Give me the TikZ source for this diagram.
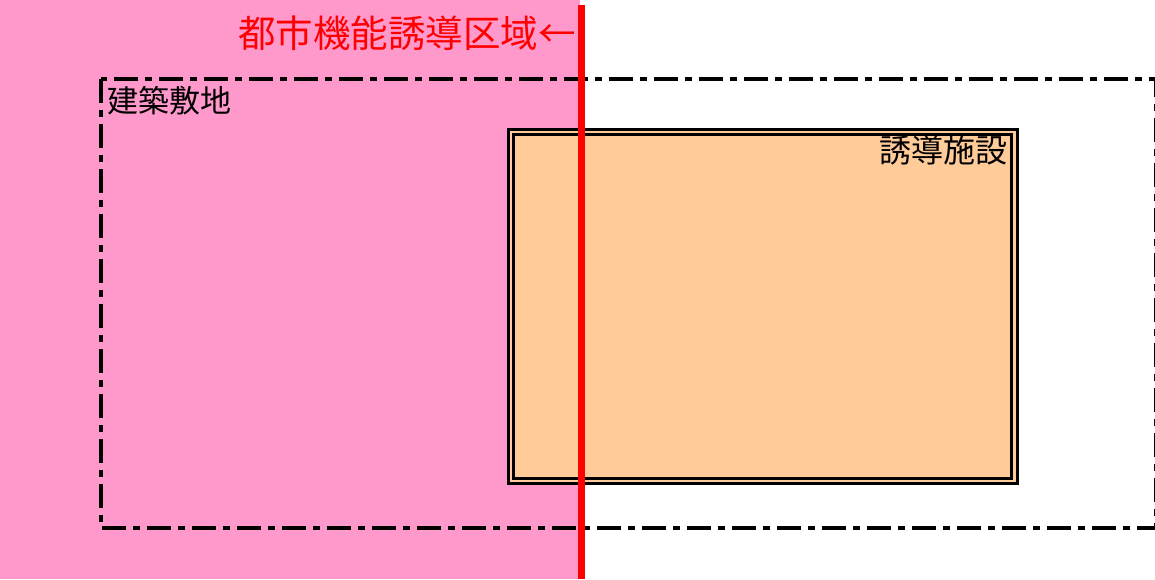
\documentclass[tikz,border=0pt]{standalone}
\usepackage{fontspec}
\newfontfamily\cjk{Noto Sans CJK JP}
\definecolor{zonepink}{HTML}{FF99CC}
\definecolor{facility}{HTML}{FFCC99}
\definecolor{zonered}{HTML}{FF0000}
\tikzset{
  sitebox/.style={draw=black, line width=4pt, dash pattern=on 24pt off 7pt on 7pt off 7pt},
  facbox/.style={draw=black, line width=3pt, double=facility, double distance=2.5pt, fill=facility},
  label/.style={font=\cjk, inner sep=0pt},
}
\begin{document}
\begin{tikzpicture}[x=1pt,y=-1pt]
\useasboundingbox (0,0) rectangle (1155,579);
\begin{scope}
\clip (0,0) rectangle (1155,579);
% zone fill
\fill[zonepink] (0,0) rectangle (580,579);
% site boundary
\draw[sitebox] (101,79) rectangle (1155.5,528);
\end{scope}
% facility
\node[facbox, minimum width=503.5pt, minimum height=349pt, anchor=north west, inner sep=0pt] (fac) at (509.5,130.5) {};
% zone line
\coordinate (ztop) at (581,5);
\coordinate (zbot) at (581,579);
\draw[zonered, line width=7pt] (ztop) -- (zbot);
% labels
\node[label, text=zonered, font=\cjk\fontsize{37.5}{37.5}\selectfont, anchor=east] (zone) at (576,33) {都市機能誘導区域←};
\node[label, font=\cjk\fontsize{31}{31}\selectfont, anchor=west] (site) at (107,101) {建築敷地};
\node[label, font=\cjk\fontsize{32}{32}\selectfont, anchor=east] (facl) at (1008,150) {誘導施設};
\end{tikzpicture}
\end{document}
